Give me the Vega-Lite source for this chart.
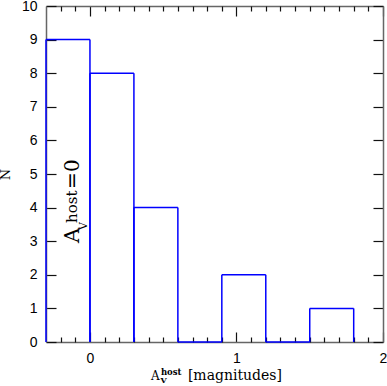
{
  "$schema": "https://vega.github.io/schema/vega-lite/v6.json",
  "width": 337,
  "height": 336,
  "autosize": {"type": "none"},
  "padding": {"left": 46, "top": 6, "right": 4, "bottom": 44},
  "background": "white",
  "config": {
    "view": {"stroke": null},
    "axis": {
      "domainColor": "#666666",
      "domainWidth": 1.5,
      "tickColor": "#111111",
      "tickWidth": 1.2,
      "labelFont": "Liberation Sans",
      "labelFontSize": 14,
      "labelColor": "#000000",
      "labelFlush": false,
      "labelOverlap": false,
      "grid": false,
      "titleFont": "DejaVu Serif",
      "titleFontWeight": "normal",
      "titleFontSize": 13,
      "titleColor": "#000000"
    }
  },
  "datasets": {
    "bins": [
      {"lo": -0.3, "hi": 0.0, "n": 9},
      {"lo": 0.0, "hi": 0.3, "n": 8},
      {"lo": 0.3, "hi": 0.6, "n": 4},
      {"lo": 0.6, "hi": 0.9, "n": 0},
      {"lo": 0.9, "hi": 1.2, "n": 2},
      {"lo": 1.2, "hi": 1.5, "n": 0},
      {"lo": 1.5, "hi": 1.8, "n": 1}
    ],
    "labels": [
      {"part": "ann_A", "text": "A"},
      {"part": "ann_sub", "text": "V"},
      {"part": "ann_sup", "text": "host"},
      {"part": "ann_eq", "text": "=0"},
      {"part": "ttl_A", "text": "A"},
      {"part": "ttl_sub", "text": "V"},
      {"part": "ttl_sup", "text": "host"},
      {"part": "ttl_rest", "text": "[magnitudes]"}
    ]
  },
  "resolve": {"axis": {"x": "independent", "y": "independent"}},
  "layer": [
    {
      "data": {"name": "bins"},
      "mark": {"type": "rule", "color": "#0000ff", "strokeWidth": 1.5},
      "encoding": {
        "x": {"field": "lo", "type": "quantitative",
          "scale": {"domain": [-0.3, 2], "nice": false, "zero": false},
          "axis": {"orient": "bottom", "values": [0, 1, 2], "tickSize": -10, "labelPadding": 19, "title": null}},
        "y": {"field": "n", "type": "quantitative",
          "scale": {"domain": [0, 10], "nice": false, "zero": false},
          "axis": {"orient": "left", "values": [0, 1, 2, 3, 4, 5, 6, 7, 8, 9, 10], "tickSize": -10, "labelPadding": 19, "labelBaseline": "middle", "title": "N", "titlePadding": 9}},
        "y2": {"datum": 0}
      }
    },
    {
      "data": {"name": "bins"},
      "mark": {"type": "rule", "color": "#0000ff", "strokeWidth": 1.5},
      "encoding": {
        "x": {"field": "hi", "type": "quantitative",
          "scale": {"domain": [-0.3, 2], "nice": false, "zero": false},
          "axis": {"orient": "bottom", "values": [-0.2, -0.1, 0.1, 0.2, 0.3, 0.4, 0.5, 0.6, 0.7, 0.8, 0.9, 1.1, 1.2, 1.3, 1.4, 1.5, 1.6, 1.7, 1.8, 1.9], "tickSize": -5, "labels": false, "domain": false, "title": null}},
        "y": {"field": "n", "type": "quantitative",
          "scale": {"domain": [0, 10], "nice": false, "zero": false},
          "axis": {"orient": "right", "values": [0, 1, 2, 3, 4, 5, 6, 7, 8, 9, 10], "tickSize": -10, "labels": false, "title": null}},
        "y2": {"datum": 0}
      }
    },
    {
      "data": {"name": "bins"},
      "mark": {"type": "rule", "color": "#0000ff", "strokeWidth": 1.5},
      "encoding": {
        "x": {"field": "lo", "type": "quantitative",
          "scale": {"domain": [-0.3, 2], "nice": false, "zero": false},
          "axis": {"orient": "top", "values": [0, 1, 2], "tickSize": -10, "labels": false, "title": null}},
        "x2": {"field": "hi"},
        "y": {"field": "n", "type": "quantitative",
          "scale": {"domain": [0, 10], "nice": false, "zero": false}, "axis": null}
      }
    },
    {
      "data": {"name": "bins"},
      "mark": {"type": "rule", "color": "#0000ff", "strokeWidth": 0, "opacity": 0},
      "encoding": {
        "x": {"field": "lo", "type": "quantitative",
          "scale": {"domain": [-0.3, 2], "nice": false, "zero": false},
          "axis": {"orient": "top", "values": [-0.2, -0.1, 0.1, 0.2, 0.3, 0.4, 0.5, 0.6, 0.7, 0.8, 0.9, 1.1, 1.2, 1.3, 1.4, 1.5, 1.6, 1.7, 1.8, 1.9], "tickSize": -5, "labels": false, "domain": false, "title": null}},
        "x2": {"field": "hi"},
        "y": {"field": "n", "type": "quantitative",
          "scale": {"domain": [0, 10], "nice": false, "zero": false}, "axis": null}
      }
    },
    {
      "data": {"name": "labels"},
      "transform": [{"filter": "datum.part === 'ann_A'"}],
      "mark": {"type": "text", "font": "DejaVu Serif", "fontSize": 21, "angle": 270, "align": "left", "baseline": "alphabetic", "color": "#000000"},
      "encoding": {
        "text": {"field": "text", "type": "nominal"},
        "x": {"datum": -0.075, "type": "quantitative", "scale": {"domain": [-0.3, 2], "nice": false, "zero": false}, "axis": null},
        "y": {"datum": 2.95, "type": "quantitative", "scale": {"domain": [0, 10], "nice": false, "zero": false}, "axis": null}
      }
    },
    {
      "data": {"name": "labels"},
      "transform": [{"filter": "datum.part === 'ann_sub'"}],
      "mark": {"type": "text", "font": "DejaVu Serif", "fontSize": 11, "angle": 270, "align": "left", "baseline": "alphabetic", "dx": 13, "dy": 8, "color": "#000000"},
      "encoding": {
        "text": {"field": "text", "type": "nominal"},
        "x": {"datum": -0.075, "type": "quantitative", "scale": {"domain": [-0.3, 2], "nice": false, "zero": false}, "axis": null},
        "y": {"datum": 2.95, "type": "quantitative", "scale": {"domain": [0, 10], "nice": false, "zero": false}, "axis": null}
      }
    },
    {
      "data": {"name": "labels"},
      "transform": [{"filter": "datum.part === 'ann_sup'"}],
      "mark": {"type": "text", "font": "DejaVu Serif", "fontSize": 15, "angle": 270, "align": "left", "baseline": "alphabetic", "dx": 20, "dy": -2, "color": "#000000"},
      "encoding": {
        "text": {"field": "text", "type": "nominal"},
        "x": {"datum": -0.075, "type": "quantitative", "scale": {"domain": [-0.3, 2], "nice": false, "zero": false}, "axis": null},
        "y": {"datum": 2.95, "type": "quantitative", "scale": {"domain": [0, 10], "nice": false, "zero": false}, "axis": null}
      }
    },
    {
      "data": {"name": "labels"},
      "transform": [{"filter": "datum.part === 'ann_eq'"}],
      "mark": {"type": "text", "font": "DejaVu Serif", "fontSize": 20, "angle": 270, "align": "left", "baseline": "alphabetic", "dx": 54, "color": "#000000"},
      "encoding": {
        "text": {"field": "text", "type": "nominal"},
        "x": {"datum": -0.075, "type": "quantitative", "scale": {"domain": [-0.3, 2], "nice": false, "zero": false}, "axis": null},
        "y": {"datum": 2.95, "type": "quantitative", "scale": {"domain": [0, 10], "nice": false, "zero": false}, "axis": null}
      }
    },
    {
      "data": {"name": "labels"},
      "transform": [{"filter": "datum.part === 'ttl_A'"}],
      "mark": {"type": "text", "font": "DejaVu Serif", "fontSize": 12, "align": "left", "baseline": "alphabetic", "color": "#000000"},
      "encoding": {
        "text": {"field": "text", "type": "nominal"},
        "x": {"datum": 0.416, "type": "quantitative", "scale": {"domain": [-0.3, 2], "nice": false, "zero": false}, "axis": null},
        "y": {"datum": -1.13, "type": "quantitative", "scale": {"domain": [0, 10], "nice": false, "zero": false}, "axis": null}
      }
    },
    {
      "data": {"name": "labels"},
      "transform": [{"filter": "datum.part === 'ttl_sub'"}],
      "mark": {"type": "text", "font": "DejaVu Serif", "fontSize": 8, "fontWeight": "bold", "align": "left", "baseline": "alphabetic", "dx": 9.5, "dy": 3, "color": "#000000"},
      "encoding": {
        "text": {"field": "text", "type": "nominal"},
        "x": {"datum": 0.416, "type": "quantitative", "scale": {"domain": [-0.3, 2], "nice": false, "zero": false}, "axis": null},
        "y": {"datum": -1.13, "type": "quantitative", "scale": {"domain": [0, 10], "nice": false, "zero": false}, "axis": null}
      }
    },
    {
      "data": {"name": "labels"},
      "transform": [{"filter": "datum.part === 'ttl_sup'"}],
      "mark": {"type": "text", "font": "DejaVu Serif", "fontSize": 8.5, "fontWeight": "bold", "align": "left", "baseline": "alphabetic", "dx": 10, "dy": -5, "color": "#000000"},
      "encoding": {
        "text": {"field": "text", "type": "nominal"},
        "x": {"datum": 0.416, "type": "quantitative", "scale": {"domain": [-0.3, 2], "nice": false, "zero": false}, "axis": null},
        "y": {"datum": -1.13, "type": "quantitative", "scale": {"domain": [0, 10], "nice": false, "zero": false}, "axis": null}
      }
    },
    {
      "data": {"name": "labels"},
      "transform": [{"filter": "datum.part === 'ttl_rest'"}],
      "mark": {"type": "text", "font": "DejaVu Serif", "fontSize": 14, "align": "left", "baseline": "alphabetic", "dx": 37, "color": "#000000"},
      "encoding": {
        "text": {"field": "text", "type": "nominal"},
        "x": {"datum": 0.416, "type": "quantitative", "scale": {"domain": [-0.3, 2], "nice": false, "zero": false}, "axis": null},
        "y": {"datum": -1.13, "type": "quantitative", "scale": {"domain": [0, 10], "nice": false, "zero": false}, "axis": null}
      }
    }
  ]
}
